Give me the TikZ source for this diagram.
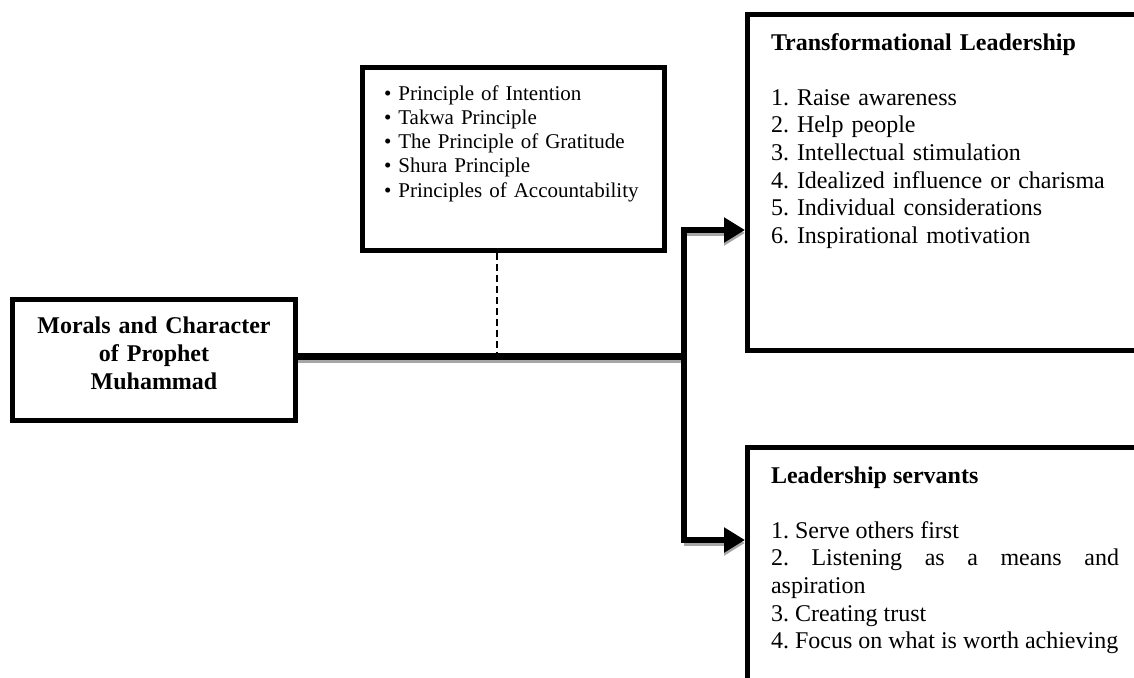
\documentclass[tikz,border=0pt]{standalone}
\usepackage{fontspec}
\setmainfont{Liberation Serif}
\usetikzlibrary{arrows.meta}
\frenchspacing

\begin{document}
\begin{tikzpicture}[x=0.5pt, y=-0.5pt,
  box/.style={
    draw,
    line width=2.5pt,
    rectangle,
    inner ysep=0pt,
    anchor=north west
  },
  listbox/.style={
    box,
    text width=174pt,
    inner xsep=11.75pt,
    text height=17.75pt,
    font=\fontsize{12}{13.8}\selectfont
  },
  trunk/.style={line width=3.4pt},
  line/.style={-{Triangle[length=10.5pt, width=12pt]}, line width=3.4pt},
  shade/.style={draw=black!35, transform canvas={yshift=-1.5pt}}
  ]

\useasboundingbox (0,0) rectangle (1134,677);
\clip (0,0) rectangle (1134,677);

% Boxes
\node[box, text width=141.5pt, inner xsep=0pt, align=center,
  text height=16.75pt, text depth=43.5pt,
  font=\bfseries\fontsize{12}{14}\selectfont] (morals) at (10,297)
  {Morals and Character\\of Prophet\\Muhammad};
\node[box, text width=129pt, inner xsep=11pt, align=left,
  text height=16.5pt, text depth=75.25pt,
  font=\fontsize{10.5}{12.15}\selectfont] (principles) at (359.5,64.5)
  {\textbullet{} Principle of Intention\\
   \textbullet{} Takwa Principle\\
   \textbullet{} The Principle of Gratitude\\
   \textbullet{} Shura Principle\\
   \textbullet{} Principles of Accountability};
\node[listbox, align=left, text depth=150.25pt] (transform) at (745,12)
  {\textbf{Transformational Leadership}\\[13.8pt]
   1. Raise awareness\\
   2. Help people\\
   3. Intellectual stimulation\\
   4. Idealized influence or charisma\\
   5. Individual considerations\\
   6. Inspirational motivation};
\node[listbox, align=justify, text depth=200pt] (servants) at (745,445)
  {\textbf{Leadership servants}\\[13.8pt]
   1. Serve others first\\
   2. Listening as a means and\linebreak aspiration\\
   3. Creating trust\\
   4. Focus on what is worth achieving};

% Branch points
\coordinate (junction) at (684,356.5);
\coordinate (tap) at (496.5,356.5);
\coordinate (upper) at (transform.west |- 0,230);
\coordinate (lower) at (servants.west |- 0,540);

% Dashed link to the principles
\draw[dashed, line width=1pt, dash pattern=on 3.5pt off 2pt] (tap |- principles.south) -- (tap);

% Shadows
\draw[trunk, shade] (morals.east |- junction) -- (junction);
\draw[line, shade] (junction |- upper) -- (upper);
\draw[line, shade] (junction |- lower) -- (lower);

% Arrows
\draw[trunk] (morals.east |- junction) -- (junction);
\draw[line] (junction) |- (upper);
\draw[line] (junction) |- (lower);

\end{tikzpicture}
\end{document}
